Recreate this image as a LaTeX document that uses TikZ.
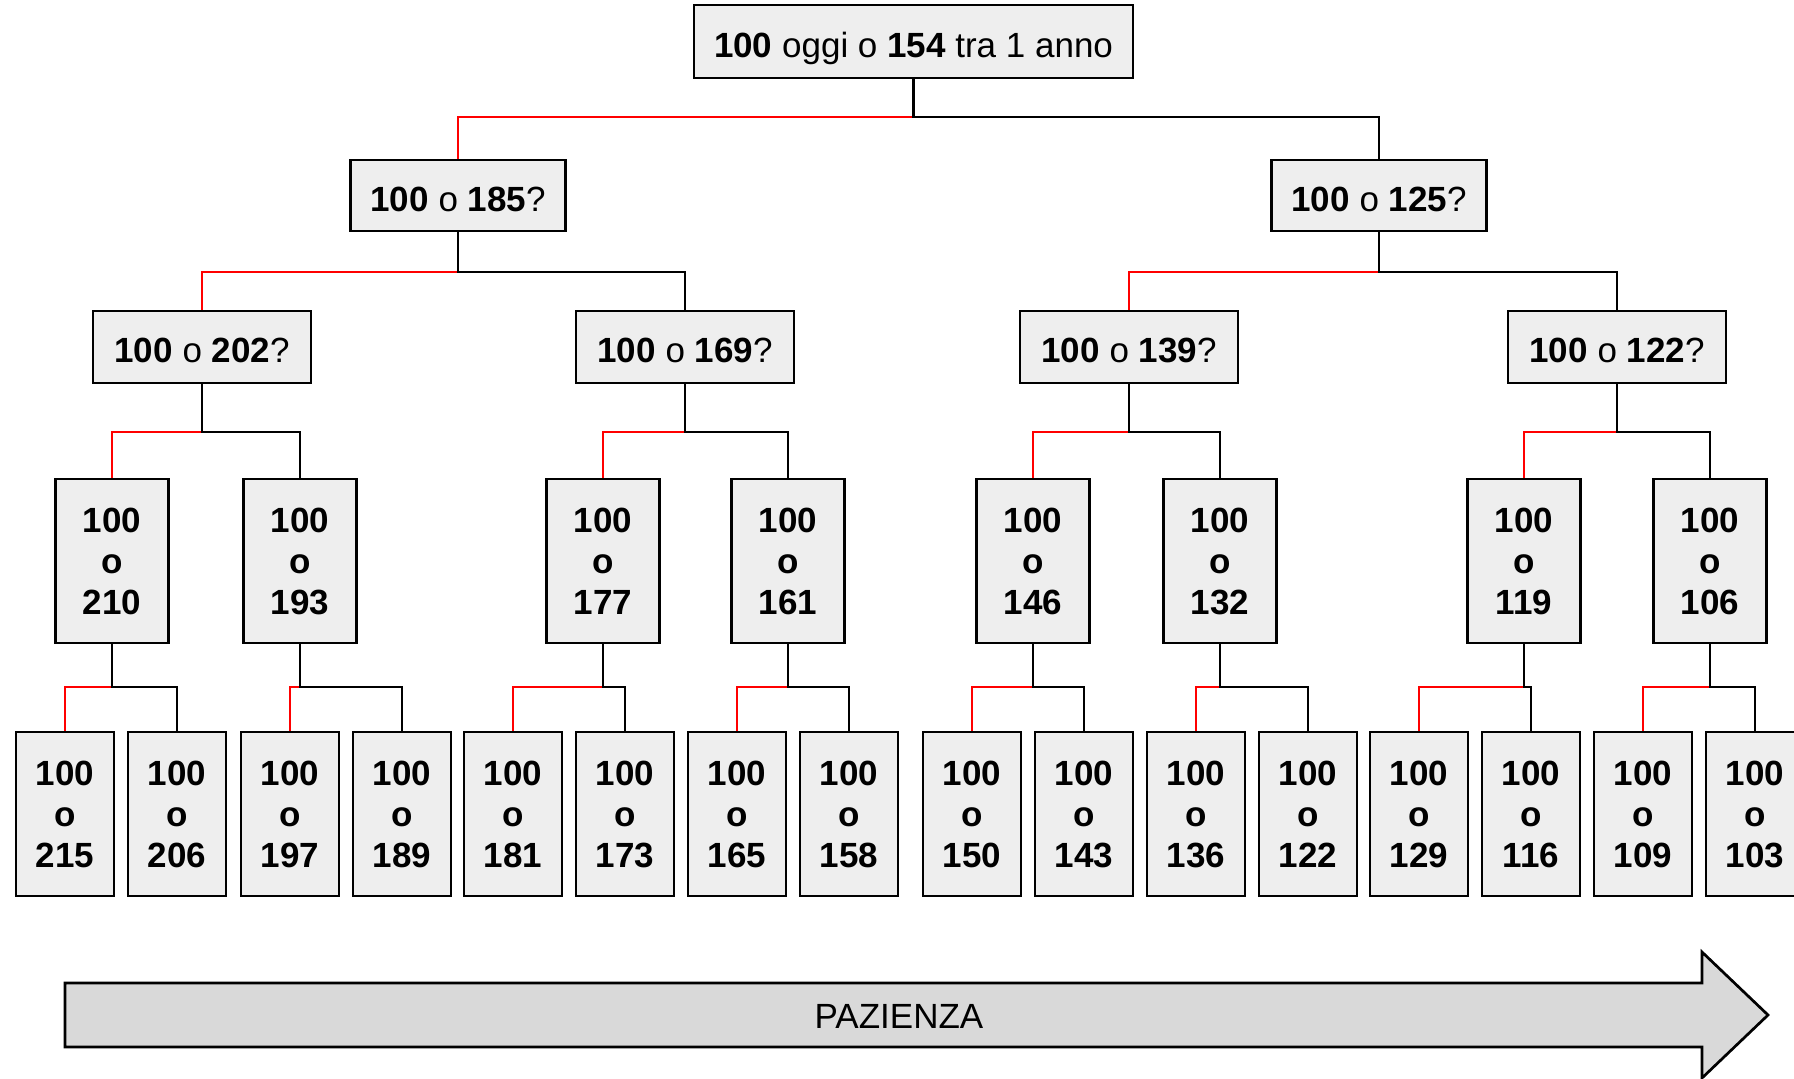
\documentclass[tikz,border=0pt]{standalone}
\usepackage{fontspec}
\setmainfont{Liberation Sans}
\definecolor{boxgray}{HTML}{EEEEEE}
\definecolor{arrowgray}{HTML}{D9D9D9}
\newcommand{\tbranch}[4]{%
  \draw[redc] (#1.south |- 0,#4) -| (#2.north);
  \draw[blkc] (#1.south) |- (#3.north |- 0,#4) -- (#3.north);
}
\begin{document}
\begin{tikzpicture}[x=0.5pt,y=-0.5pt,
  box/.style={draw=black, line width=1.35pt, fill=boxgray, inner sep=0pt, align=center,
    font=\fontsize{17.5}{20.5}\selectfont},
  onebox/.style={box, text height=15.9pt, text depth=0pt},
  rootbox/.style={onebox, minimum width=219.5pt, minimum height=36.5pt},
  l1box/.style={onebox, minimum width=107.5pt, minimum height=35.5pt},
  l2box/.style={onebox, minimum width=109pt, minimum height=36pt},
  l3box/.style={box, minimum width=56.5pt, minimum height=82pt},
  l4box/.style={box, minimum width=49pt, minimum height=82pt},
  redc/.style={draw=red, line width=1.35pt},
  blkc/.style={draw=black, line width=1.35pt}]
\useasboundingbox (0,0) rectangle (1794,1078);
\clip (0,0) rectangle (1794,1078);
% root
\node[rootbox] (r) at (913.5,41.5) {\textbf{100} oggi o \textbf{154} tra 1 anno};
% level 1
\node[l1box] (a185) at (458,195.5) {\textbf{100} o \textbf{185}?};
\node[l1box] (a125) at (1379,195.5) {\textbf{100} o \textbf{125}?};
% level 2
\node[l2box] (b202) at (202,347) {\textbf{100} o \textbf{202}?};
\node[l2box] (b169) at (685,347) {\textbf{100} o \textbf{169}?};
\node[l2box] (b139) at (1129,347) {\textbf{100} o \textbf{139}?};
\node[l2box] (b122) at (1617,347) {\textbf{100} o \textbf{122}?};
% level 3
\foreach \nm/\xx in {210/112,193/300,177/603,161/788,146/1033,132/1220,119/1524,106/1710}
  \node[l3box] (c\nm) at (\xx,561) {\textbf{100}\\\textbf{o}\\\textbf{\nm}};
% level 4
\foreach \nm/\xx in {215/65,206/177,197/290,189/402,181/513,173/625,165/737,158/849,150/972,143/1084,136/1196,122/1308,129/1419,116/1531,109/1643,103/1755}
  \node[l4box] (d\nm) at (\xx,814) {\textbf{100}\\\textbf{o}\\\textbf{\nm}};
% connectors
\tbranch{r}{a185}{a125}{117}
\tbranch{a185}{b202}{b169}{272}
\tbranch{a125}{b139}{b122}{272}
\tbranch{b202}{c210}{c193}{432}
\tbranch{b169}{c177}{c161}{432}
\tbranch{b139}{c146}{c132}{432}
\tbranch{b122}{c119}{c106}{432}
\tbranch{c210}{d215}{d206}{687}
\tbranch{c193}{d197}{d189}{687}
\tbranch{c177}{d181}{d173}{687}
\tbranch{c161}{d165}{d158}{687}
\tbranch{c146}{d150}{d143}{687}
\tbranch{c132}{d136}{d122}{687}
\tbranch{c119}{d129}{d116}{687}
\tbranch{c106}{d109}{d103}{687}
% arrow
\draw[line width=1.35pt, fill=arrowgray, line join=miter]
  (65,983) -- (1702,983) -- (1702,952) -- (1768,1015) -- (1702,1078) -- (1702,1047) -- (65,1047) -- cycle;
\node[font=\fontsize{17.5}{20}\selectfont] (pz) at (899,1016) {PAZIENZA};
\end{tikzpicture}
\end{document}
